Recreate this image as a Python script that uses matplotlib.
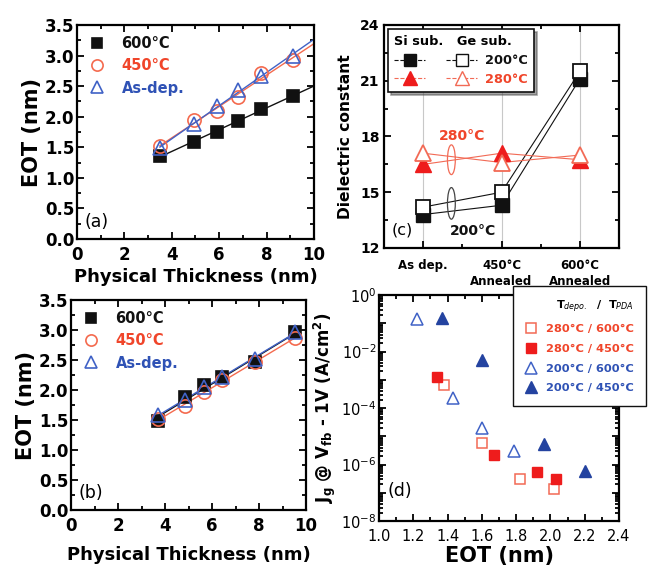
import numpy as np
import matplotlib
matplotlib.use('Agg')
import matplotlib.pyplot as plt
from matplotlib.patches import Ellipse
from matplotlib.lines import Line2D
from matplotlib.ticker import MultipleLocator, LogLocator, FuncFormatter, NullFormatter

plt.rcParams['font.family'] = ['DejaVu Sans']
plt.rcParams['mathtext.fontset'] = 'dejavusans'

# ---------------- data ----------------
# panel (a)
a_x = [3.5, 4.95, 5.9, 6.8, 7.75, 9.1]
a_600 = [1.36, 1.59, 1.75, 1.93, 2.12, 2.34]
a_450 = [1.52, 1.94, 2.09, 2.33, 2.71, 2.93]
a_asdep = [1.49, 1.88, 2.17, 2.43, 2.67, 2.99]
# panel (b)
b_x = [3.72, 4.83, 5.68, 6.42, 7.85, 9.52]
b_600 = [1.48, 1.89, 2.09, 2.21, 2.46, 2.96]
b_450 = [1.52, 1.73, 1.96, 2.16, 2.46, 2.87]
b_asdep = [1.59, 1.83, 2.05, 2.22, 2.52, 2.97]
thick_labels = ['600°C', '450°C', 'As-dep.']
# panel (c)
c_cats = ['As dep.', '450°C\nAnnealed', '600°C\nAnnealed']
c_si_200 = [13.8, 14.3, 21.1]
c_ge_200 = [14.2, 15.0, 21.5]
c_si_280 = [16.5, 17.1, 16.75]
c_ge_280 = [17.1, 16.6, 17.0]
# panel (d)
d_280_600_x = [1.38, 1.60, 1.82, 2.02]
d_280_600_y = [6.5e-4, 5.8e-6, 3.1e-7, 1.4e-7]
d_280_450_x = [1.34, 1.67, 1.92, 2.03]
d_280_450_y = [1.3e-3, 2.1e-6, 5.5e-7, 3.2e-7]
d_200_600_x = [1.22, 1.43, 1.60, 1.79]
d_200_600_y = [1.4e-1, 2.2e-4, 2.0e-5, 3.0e-6]
d_200_450_x = [1.37, 1.60, 1.96, 2.20]
d_200_450_y = [1.6e-1, 5.0e-3, 5.5e-6, 5.9e-7]
d_labels = ['280°C / 600°C', '280°C / 450°C', '200°C / 600°C', '200°C / 450°C']

# colours
BLACK = '#111111'
ORANGE = '#f46a4e'
ORANGE_T = '#f0452a'
BLUE = '#4062c6'
BLUE_T = '#2f52b5'
RED = '#ee1c1c'
RED_O = '#f26a55'
DBLUE = '#2443a0'

fig = plt.figure(figsize=(6.49, 5.68), dpi=100)


def style_axes(ax, lw=1.6):
    for s in ax.spines.values():
        s.set_linewidth(lw)
    ax.tick_params(which='both', direction='in', top=True, right=True, width=1.3)
    ax.tick_params(which='major', length=5)
    ax.tick_params(which='minor', length=3)


def thickness_panel(ax, xs, ys_list, tag, extend, xlabelpad):
    style = [
        dict(marker='s', mfc=BLACK, mec=BLACK, ms=8.5, lc=BLACK),
        dict(marker='o', mfc='none', mec=ORANGE, ms=9.5, lc=ORANGE),
        dict(marker='^', mfc='none', mec=BLUE, ms=9.5, lc=BLUE),
    ]
    handles = []
    for ys, st, lab in zip(ys_list, style, thick_labels):
        p = np.polyfit(xs, ys, 1)
        xe = np.array([xs[0], extend if extend else xs[-1]])
        ax.plot(xe, np.polyval(p, xe), color=st['lc'], lw=1.0, zorder=2)
        h, = ax.plot(xs, ys, ls='none', marker=st['marker'], mfc=st['mfc'],
                     mec=st['mec'], ms=st['ms'], mew=1.2, label=lab, zorder=3)
        handles.append(h)
    ax.legend(handles=handles, loc='upper left', frameon=False,
              prop=dict(weight='bold', size=10.5), handletextpad=1.1,
              borderaxespad=0.35, labelspacing=0.5, handlelength=1.2,
              markerscale=0.85,
              labelcolor=[BLACK, ORANGE_T, BLUE_T])
    ax.set_xlim(0, 10)
    ax.set_ylim(0, 3.5)
    ax.xaxis.set_major_locator(MultipleLocator(2))
    ax.xaxis.set_minor_locator(MultipleLocator(1))
    ax.yaxis.set_major_locator(MultipleLocator(0.5))
    ax.yaxis.set_minor_locator(MultipleLocator(0.25))
    for lbl in ax.get_xticklabels() + ax.get_yticklabels():
        lbl.set_fontweight('bold')
        lbl.set_fontsize(12)
    ax.tick_params(axis='y', which='major', pad=2)
    ax.tick_params(axis='x', which='major', pad=5)
    ax.set_xlabel('Physical Thickness (nm)', fontsize=13, fontweight='bold', labelpad=xlabelpad)
    ax.set_ylabel('EOT (nm)', fontsize=15, fontweight='bold', labelpad=2)
    ax.text(0.3, 0.2, tag, fontsize=12.5)
    style_axes(ax)


# ---------- (a) ----------
ax_a = fig.add_axes([0.1186, 0.5792, 0.3652, 0.3768])
thickness_panel(ax_a, a_x, [a_600, a_450, a_asdep], '(a)', 10, 3)

# ---------- (b) ----------
ax_b = fig.add_axes([0.1094, 0.1021, 0.3621, 0.3697])
thickness_panel(ax_b, b_x, [b_600, b_450, b_asdep], '(b)', None, 8)

# ---------- (c) ----------
ax_c = fig.add_axes([0.5917, 0.5634, 0.3621, 0.3926])
cx = np.arange(len(c_cats))
for xv in cx:
    ax_c.axvline(xv, color='#c8c8c8', lw=0.8, zorder=0)
ax_c.plot(cx, c_si_200, color=BLACK, lw=0.8, zorder=2)
ax_c.plot(cx, c_ge_200, color=BLACK, lw=0.8, zorder=2)
ax_c.plot(cx, c_si_280, color=RED_O, lw=0.8, zorder=2)
ax_c.plot(cx, c_ge_280, color=RED_O, lw=0.8, zorder=2)
ax_c.plot(cx, c_si_200, ls='none', marker='s', ms=10, mfc=BLACK, mec=BLACK, zorder=3)
ax_c.plot(cx, c_ge_200, ls='none', marker='s', ms=10, mfc='white', mec=BLACK, mew=1.3, zorder=4)
ax_c.plot(cx, c_si_280, ls='none', marker='^', ms=11, mfc=RED, mec=RED, zorder=3)
ax_c.plot(cx, c_ge_280, ls='none', marker='^', ms=11, mfc='white', mec=RED_O, mew=1.3, zorder=4)
ax_c.add_patch(Ellipse((0.36, 16.75), 0.1, 1.6, fill=False, ec=RED_O, lw=0.9, zorder=5))
ax_c.add_patch(Ellipse((0.36, 14.4), 0.1, 1.7, fill=False, ec='#444444', lw=0.9, zorder=5))
ax_c.text(0.5, 18.0, '280°C', color=ORANGE_T, fontsize=10, fontweight='bold', ha='center', va='center')
ax_c.text(0.64, 12.9, '200°C', color=BLACK, fontsize=10, fontweight='bold', ha='center', va='center')
ax_c.text(-0.4, 12.95, '(c)', fontsize=11.5, va='center')
ax_c.set_xlim(-0.5, 2.5)
ax_c.set_ylim(12, 24)
ax_c.set_xticks(cx)
ax_c.set_xticklabels(c_cats, fontsize=8.5, fontweight='bold', linespacing=1.25)
ax_c.xaxis.set_minor_locator(MultipleLocator(0.5))
ax_c.yaxis.set_major_locator(MultipleLocator(3))
ax_c.yaxis.set_minor_locator(MultipleLocator(1.5))
for lbl in ax_c.get_yticklabels():
    lbl.set_fontweight('bold')
    lbl.set_fontsize(10)
ax_c.set_ylabel('Dielectric constant', fontsize=11.2, fontweight='bold', labelpad=5)
style_axes(ax_c)
ax_c.tick_params(axis='x', which='major', pad=8)
ax_c.tick_params(axis='y', which='major', pad=3)
lh = [Line2D([], [], color=BLACK, ls='--', lw=0.8, marker='s', ms=9, mfc=BLACK, mec=BLACK),
      Line2D([], [], color=RED_O, ls='--', lw=0.8, marker='^', ms=10, mfc=RED, mec=RED),
      Line2D([], [], color=BLACK, ls='--', lw=0.8, marker='s', ms=9, mfc='white', mec=BLACK),
      Line2D([], [], color=RED_O, ls='--', lw=0.8, marker='^', ms=10, mfc='white', mec=RED_O)]
leg_c = ax_c.legend(handles=lh, labels=['', '', '200°C', '280°C'], ncol=2,
                    loc='upper left', title='Si sub.   Ge sub.', fancybox=False,
                    shadow=True, edgecolor=BLACK, framealpha=1,
                    prop=dict(weight='bold', size=9.3), handlelength=2.4,
                    columnspacing=1.0, handletextpad=0.6, labelspacing=0.45,
                    borderaxespad=0.3, borderpad=0.5,
                    labelcolor=[BLACK, ORANGE_T, BLACK, ORANGE_T])
leg_c.get_title().set_fontweight('bold')
leg_c.get_title().set_fontsize(9.3)
leg_c._legend_box.align = 'left'
leg_c.get_frame().set_linewidth(1.2)

# ---------- (d) ----------
ax_d = fig.add_axes([0.584, 0.0827, 0.3698, 0.3979])
hd = []
hd.append(ax_d.plot(d_280_600_x, d_280_600_y, ls='none', marker='s', ms=7, mfc='white', mec=RED_O, mew=1.1)[0])
hd.append(ax_d.plot(d_280_450_x, d_280_450_y, ls='none', marker='s', ms=7, mfc=RED, mec=RED)[0])
hd.append(ax_d.plot(d_200_600_x, d_200_600_y, ls='none', marker='^', ms=9, mfc='white', mec=BLUE, mew=1.1)[0])
hd.append(ax_d.plot(d_200_450_x, d_200_450_y, ls='none', marker='^', ms=9, mfc=DBLUE, mec=DBLUE)[0])
ax_d.set_yscale('log')
ax_d.set_xlim(1.0, 2.4)
ax_d.set_ylim(1e-8, 1)
ax_d.xaxis.set_major_locator(MultipleLocator(0.2))
ax_d.xaxis.set_minor_locator(MultipleLocator(0.1))
ax_d.yaxis.set_major_locator(LogLocator(base=10, numticks=20))
ax_d.yaxis.set_minor_locator(LogLocator(base=10, subs=np.arange(2, 10), numticks=20))
ax_d.yaxis.set_minor_formatter(NullFormatter())


def dfmt(v, pos):
    e = int(round(np.log10(v)))
    return r'$10^{%d}$' % e if e % 2 == 0 else ''


ax_d.yaxis.set_major_formatter(FuncFormatter(dfmt))
for lbl in ax_d.get_xticklabels() + ax_d.get_yticklabels():
    lbl.set_fontsize(10.5)
ax_d.set_xlabel('EOT (nm)', fontsize=15, fontweight='bold', labelpad=1)
ax_d.set_ylabel(r'$\mathbf{J_g}$ @ $\mathbf{V_{fb}}$ - 1V (A/cm$^\mathbf{2}$)',
                fontsize=12, fontweight='bold')
ax_d.yaxis.set_label_coords(-0.17, 0.5)
ax_d.text(1.05, 8e-8, '(d)', fontsize=12.5)
style_axes(ax_d)
ax_d.tick_params(axis='x', which='major', pad=6)
ax_d.tick_params(axis='y', which='major', pad=2)
leg_d = ax_d.legend(handles=hd, labels=d_labels, loc='upper left',
                    bbox_to_anchor=(0.790, 0.497), bbox_transform=fig.transFigure,
                    borderaxespad=0,
                    title=r'T$_{depo.}$  /  T$_{PDA}$', fancybox=False,
                    edgecolor=BLACK, framealpha=1, prop=dict(weight='bold', size=8.2),
                    labelcolor=[ORANGE_T, ORANGE_T, BLUE_T, BLUE_T],
                    handlelength=1.0, handletextpad=0.8, labelspacing=0.85,
                    borderpad=1.1)
leg_d.get_title().set_fontweight('bold')
leg_d.get_title().set_fontsize(8.2)
leg_d._legend_box.align = 'right'
leg_d.get_frame().set_linewidth(1.0)

fig.savefig('out.png', dpi=100)
